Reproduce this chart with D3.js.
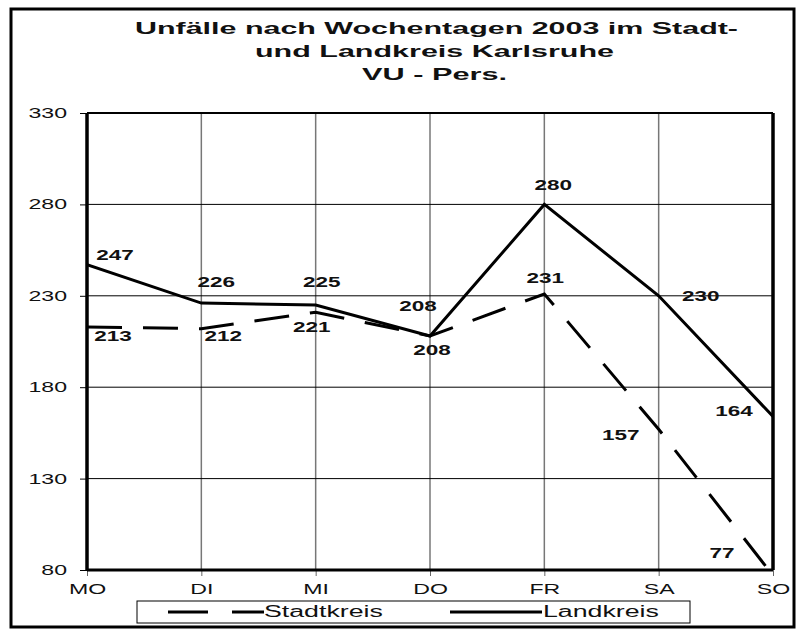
<!DOCTYPE html>
<html><head><meta charset="utf-8">
<script src="https://cdn.jsdelivr.net/npm/d3@7"></script>
<style>body{margin:0;background:#fff}svg{display:block}text{font-family:"Liberation Sans",Arial,sans-serif}</style>
</head><body><svg id="c" width="800" height="635"></svg>
<script>
const days = ["MO","DI","MI","DO","FR","SA","SO"];
const landkreis = [247,226,225,208,280,230,164];
const stadtkreis = [213,212,221,208,231,157,77];
const yTicks = [80,130,180,230,280,330];
const titleLines = ["Unfälle nach Wochentagen 2003 im Stadt-","und Landkreis Karlsruhe","VU - Pers."];
const seriesNames = ["Stadtkreis","Landkreis"];
// label offsets (dx, baseline dy) relative to point
const landOff = [[28,-5],[15,-16],[6,-18],[-12,-25],[9,-14],[42,5],[-39,0]];
const stadtOff = [[26,14],[22,12],[-4,20],[2,19],[1,-11],[-38,11],[-51,-12]];

const svg = d3.select("#c");
const L=87, R=773, T=113, B=570;
const x = d3.scalePoint().domain(days).range([L,R]);
const y = d3.scaleLinear().domain([80,330]).range([B,T]);

function stretch(sel, f){
  sel.each(function(){
    const w = this.getComputedTextLength();
    d3.select(this).attr("textLength", w*f).attr("lengthAdjust","spacingAndGlyphs");
  });
}

// outer frame
svg.append("rect").attr("x",11).attr("y",9).attr("width",783).attr("height",618)
  .attr("fill","none").attr("stroke","#000").attr("stroke-width",3);

// title
const titleW = [603,359,145], titleX=[436.5,434.5,434.5];
svg.append("g").selectAll("text").data(titleLines).join("text")
  .attr("x",(d,i)=>titleX[i]).attr("y",(d,i)=>34+i*23).attr("text-anchor","middle")
  .attr("font-size",16.5).attr("font-weight","bold").attr("fill","#111")
  .attr("textLength",(d,i)=>titleW[i]).attr("lengthAdjust","spacingAndGlyphs")
  .text(d=>d);

// vertical grid
svg.append("g").selectAll("line").data(days.slice(1,-1)).join("line")
  .attr("x1",d=>x(d)).attr("x2",d=>x(d)).attr("y1",T).attr("y2",B)
  .attr("stroke","#777").attr("stroke-width",1.5);
// horizontal grid
svg.append("g").selectAll("line").data(yTicks.slice(1,-1)).join("line")
  .attr("x1",L).attr("x2",R).attr("y1",d=>y(d)).attr("y2",d=>y(d))
  .attr("stroke","#000").attr("stroke-width",1);

// axes
const ya = svg.append("g").attr("transform",`translate(${L},0)`)
  .call(d3.axisLeft(y).tickValues(yTicks).tickSize(7).tickPadding(13));
ya.select(".domain").remove();
ya.selectAll("text").attr("font-size",14).attr("fill","#111");
ya.selectAll("line").attr("stroke","#000");
stretch(ya.selectAll("text"),1.65);
const xa = svg.append("g").attr("transform",`translate(0,${B})`)
  .call(d3.axisBottom(x).tickSize(6).tickPadding(8));
xa.select(".domain").remove();
xa.selectAll("text").attr("font-size",14).attr("fill","#111");
xa.selectAll("line").attr("stroke","#666");
stretch(xa.selectAll("text"),1.65);

// plot frame
svg.append("line").attr("x1",L).attr("x2",R).attr("y1",T).attr("y2",T).attr("stroke","#000").attr("stroke-width",2);
svg.append("line").attr("x1",L).attr("x2",L).attr("y1",T).attr("y2",B).attr("stroke","#000").attr("stroke-width",3.5);
svg.append("line").attr("x1",R).attr("x2",R).attr("y1",T).attr("y2",B).attr("stroke","#000").attr("stroke-width",3.5);
svg.append("line").attr("x1",L).attr("x2",R).attr("y1",B).attr("y2",B).attr("stroke","#000").attr("stroke-width",3);

// clip
svg.append("clipPath").attr("id","pc").append("rect").attr("x",L).attr("y",T).attr("width",R-L).attr("height",B-T);

const line = d3.line().x((d,i)=>x(days[i])).y(d=>y(d));
svg.append("path").datum(landkreis).attr("d",line).attr("clip-path","url(#pc)")
  .attr("fill","none").attr("stroke","#000").attr("stroke-width",3);
svg.append("path").datum(stadtkreis).attr("d",line).attr("clip-path","url(#pc)")
  .attr("fill","none").attr("stroke","#000").attr("stroke-width",3).attr("stroke-dasharray","35,21");

// labels
function labels(data, off){
  const t = svg.append("g").selectAll("text").data(data).join("text")
    .attr("x",(d,i)=>x(days[i])+off[i][0])
    .attr("y",(d,i)=>y(Math.max(d,80))+off[i][1])
    .attr("text-anchor","middle").attr("font-size",15).attr("font-weight","bold").attr("fill","#111")
    .text(d=>d);
  stretch(t,1.5);
}
labels(landkreis, landOff);
labels(stadtkreis, stadtOff);

// legend
const lg = svg.append("g");
lg.append("rect").attr("x",137).attr("y",601).attr("width",553).attr("height",22)
  .attr("fill","#fff").attr("stroke","#000").attr("stroke-width",1);
lg.append("line").attr("x1",168).attr("x2",264).attr("y1",612).attr("y2",612)
  .attr("stroke","#000").attr("stroke-width",3).attr("stroke-dasharray","40,24");
lg.append("line").attr("x1",450).attr("x2",542).attr("y1",612).attr("y2",612)
  .attr("stroke","#000").attr("stroke-width",3);
const lt = lg.selectAll("text.lt").data(seriesNames).join("text").attr("class","lt")
  .attr("x",(d,i)=>i?543:264).attr("y",617).attr("font-size",16).attr("fill","#111").text(d=>d);
stretch(lt,1.67);
</script></body></html>
